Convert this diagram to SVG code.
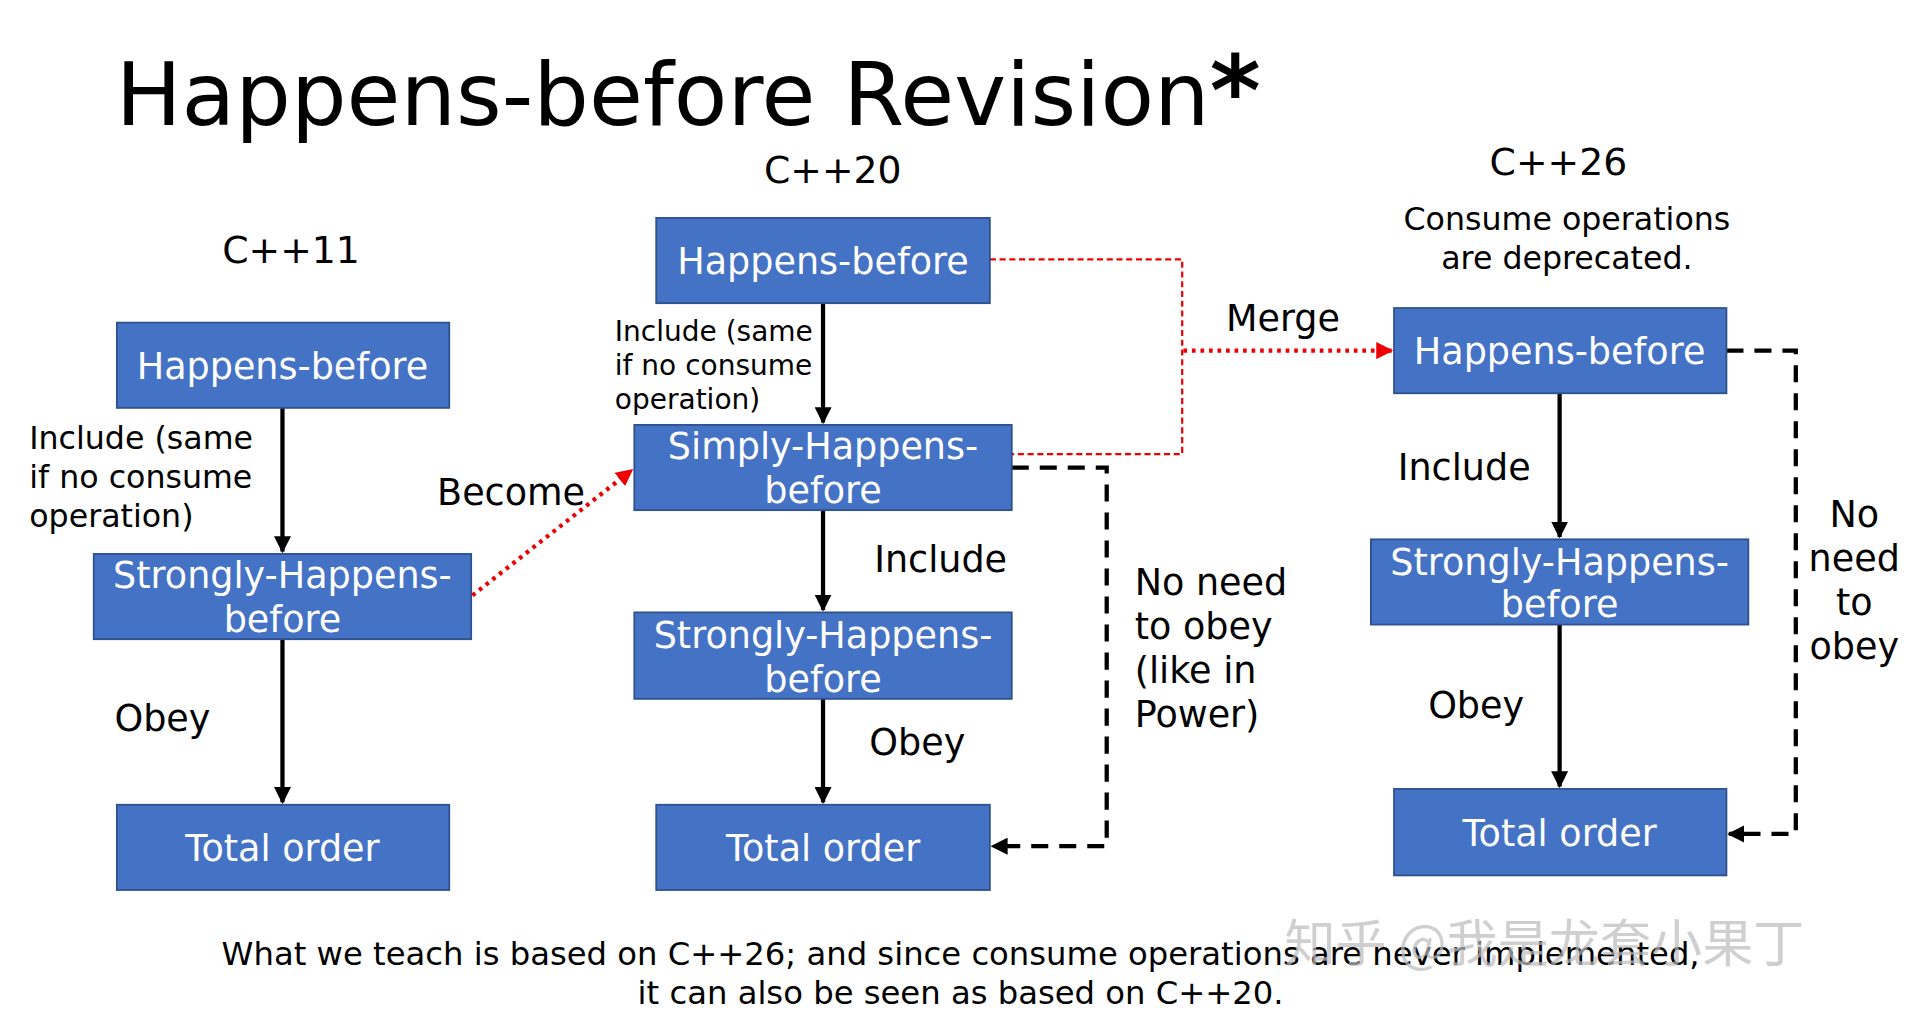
<svg xmlns="http://www.w3.org/2000/svg" width="1909" height="1020" viewBox="0 0 1909 1020">
<defs>
<style>
text{font-family:"DejaVu Sans","Noto Sans",sans-serif;fill:#000}
.b{fill:#4472C4;stroke:#2F528F;stroke-width:1.5}
.bt{fill:#fff;font-size:30px;text-anchor:middle}
.l{font-size:30px}
.s{stroke:#000;stroke-width:3.5;fill:none}
.d{stroke:#000;stroke-width:3.5;fill:none;stroke-dasharray:14 9}
</style>
<marker id="a" viewBox="0 0 10 10" refX="9" refY="5" markerWidth="4" markerHeight="4" orient="auto"><path d="M0,0L10,5L0,10z" fill="#000"/></marker>
<marker id="r" viewBox="0 0 10 10" refX="9" refY="5" markerWidth="4" markerHeight="4" orient="auto"><path d="M0,0L10,5L0,10z" fill="#E00"/></marker>
</defs>
<rect width="1909" height="1020" fill="#fff"/>
<g transform="scale(1.2175)">
<text x="95" y="103" font-size="72">Happens-before Revision<tspan font-weight="bold" font-size="80">*</tspan></text>
<text x="239" y="216" font-size="31" text-anchor="middle">C++11</text>
<text x="684" y="150" font-size="31" text-anchor="middle">C++20</text>
<text x="1280" y="144" font-size="31" text-anchor="middle">C++26</text>
<text x="1287" y="189" font-size="26" text-anchor="middle">Consume operations</text>
<text x="1287" y="221" font-size="26" text-anchor="middle">are deprecated.</text>
<g id="connectors">
<path class="s" d="M232,335V453" marker-end="url(#a)"/>
<path class="s" d="M232,525V659" marker-end="url(#a)"/>
<path class="s" d="M676,249V347" marker-end="url(#a)"/>
<path class="s" d="M676,419V501" marker-end="url(#a)"/>
<path class="s" d="M676,574V659" marker-end="url(#a)"/>
<path class="s" d="M1281,323V441" marker-end="url(#a)"/>
<path class="s" d="M1281,513V646" marker-end="url(#a)"/>
<path d="M388,489L519,386" stroke="#E00" stroke-width="3.5" stroke-dasharray="3 4" fill="none" marker-end="url(#r)"/>
<path d="M972,288H1143" stroke="#E00" stroke-width="3.5" stroke-dasharray="3 4" fill="none" marker-end="url(#r)"/>
<path d="M813,213H971V373H831" stroke="#E00" stroke-width="1.8" stroke-dasharray="5 3" fill="none"/>
<path class="d" d="M831,384H909V695H815" marker-end="url(#a)"/>
<path class="d" d="M1418,288H1475V685H1420" marker-end="url(#a)"/>
</g>
<g id="n1"><rect class="b" x="96" y="265" width="273" height="70"/><text class="bt" x="232" y="311">Happens-before</text></g>
<g id="n2"><rect class="b" x="77" y="455" width="310" height="70"/><text class="bt" x="232" y="483">Strongly-Happens-</text><text class="bt" x="232" y="519">before</text></g>
<g id="n3"><rect class="b" x="96" y="661" width="273" height="70"/><text class="bt" x="232" y="707">Total order</text></g>
<g id="n4"><rect class="b" x="539" y="179" width="274" height="70"/><text class="bt" x="676" y="225">Happens-before</text></g>
<g id="n5"><rect class="b" x="521" y="349" width="310" height="70"/><text class="bt" x="676" y="377">Simply-Happens-</text><text class="bt" x="676" y="413">before</text></g>
<g id="n6"><rect class="b" x="521" y="503" width="310" height="71"/><text class="bt" x="676" y="532">Strongly-Happens-</text><text class="bt" x="676" y="568">before</text></g>
<g id="n7"><rect class="b" x="539" y="661" width="274" height="70"/><text class="bt" x="676" y="707">Total order</text></g>
<g id="n8"><rect class="b" x="1145" y="253" width="273" height="70"/><text class="bt" x="1281" y="299">Happens-before</text></g>
<g id="n9"><rect class="b" x="1126" y="443" width="310" height="70"/><text class="bt" x="1281" y="472">Strongly-Happens-</text><text class="bt" x="1281" y="507">before</text></g>
<g id="n10"><rect class="b" x="1145" y="648" width="273" height="71"/><text class="bt" x="1281" y="695">Total order</text></g>
<text x="24" y="369" font-size="26">Include (same</text>
<text x="24" y="401" font-size="26">if no consume</text>
<text x="24" y="433" font-size="26">operation)</text>
<text x="505" y="280" font-size="23">Include (same</text>
<text x="505" y="308" font-size="23">if no consume</text>
<text x="505" y="336" font-size="23">operation)</text>
<text class="l" x="359" y="415">Become</text>
<text class="l" x="94" y="600">Obey</text>
<text class="l" x="718" y="470">Include</text>
<text class="l" x="714" y="620">Obey</text>
<text class="l" x="1148" y="394">Include</text>
<text class="l" x="1173" y="590">Obey</text>
<text class="l" x="1007" y="272">Merge</text>
<text class="l" x="932" y="489">No need</text>
<text class="l" x="932" y="525">to obey</text>
<text class="l" x="932" y="561">(like in</text>
<text class="l" x="932" y="597">Power)</text>
<text class="l" x="1523" y="433" text-anchor="middle">No</text>
<text class="l" x="1523" y="469" text-anchor="middle">need</text>
<text class="l" x="1523" y="505" text-anchor="middle">to</text>
<text class="l" x="1523" y="541" text-anchor="middle">obey</text>
<text x="789" y="793" font-size="26.5" text-anchor="middle">What we teach is based on C++26; and since consume operations are never implemented,</text>
<text x="789" y="825" font-size="26.5" text-anchor="middle">it can also be seen as based on C++20.</text>
<text x="1055" y="790" font-size="42" style="fill:#bbb;font-family:'Noto Sans CJK SC',sans-serif" opacity="0.7">知乎 @我是龙套小果丁</text>
</g>
</svg>
